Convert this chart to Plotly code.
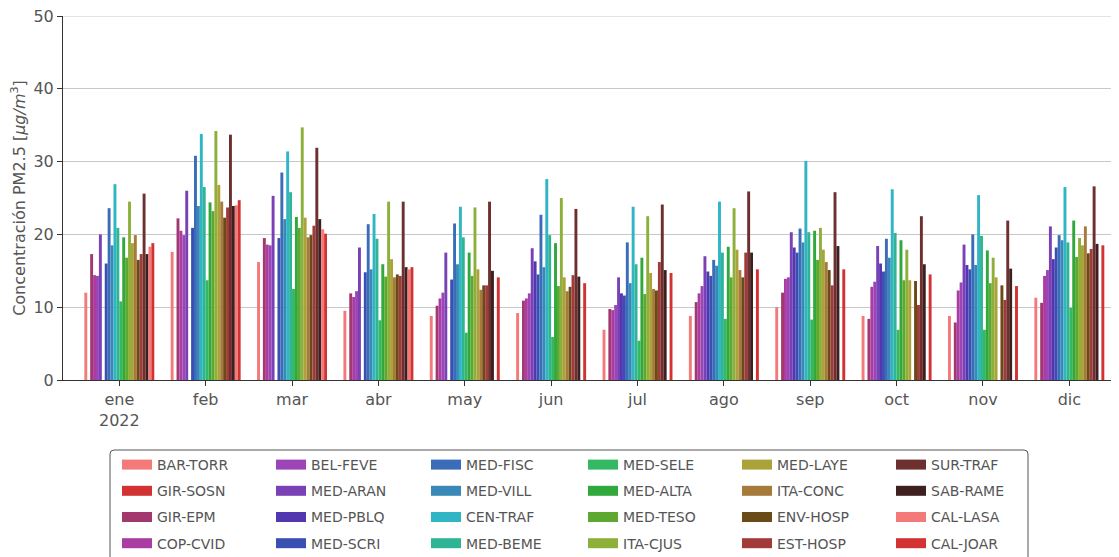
import plotly.graph_objects as go

months = ["ene", "feb", "mar", "abr", "may", "jun", "jul", "ago", "sep", "oct", "nov", "dic"]
tick_labels = ["ene<br>2022", "feb", "mar", "abr", "may", "jun", "jul", "ago", "sep", "oct", "nov", "dic"]
y_ticks = [0, 10, 20, 30, 40, 50]

N = None
BAR_TORR = [12.0, 17.6, 16.2, 9.5, 8.8, 9.2, 6.9, 8.8, 10.0, 8.8, 8.8, 11.3]
GIR_SOSN = [N, N, N, N, N, N, N, N, N, N, N, N]
GIR_EPM = [17.3, 22.2, 19.5, 11.9, 10.2, 10.9, 9.75, 10.7, 12.0, 8.4, 7.9, 10.6]
COP_CVID = [14.4, 20.5, 18.6, 11.4, 11.2, 11.2, 9.6, 11.9, 13.9, 12.8, 12.3, 14.3]
BEL_FEVE = [14.3, 19.9, 18.5, 12.2, 12.0, 11.9, 10.3, 12.9, 14.1, 13.5, 13.4, 15.1]
MED_ARAN = [20.0, 26.0, 25.3, 18.2, 17.5, 18.1, 14.1, 17.0, 20.3, 18.4, 18.6, 21.1]
MED_PBLQ = [N, N, N, N, N, 16.3, 11.9, 14.9, 18.2, 16.0, 15.8, 16.6]
MED_SCRI = [16.0, 20.9, 19.5, 14.8, 13.8, 14.5, 11.6, 14.3, 17.5, 14.9, 15.2, 18.2]
MED_FISC = [23.6, 30.8, 28.5, 21.4, 21.5, 22.7, 18.9, 16.5, 20.8, 19.4, 20.0, 19.9]
MED_VILL = [18.5, 23.9, 22.1, 15.2, 15.9, 15.5, 13.3, 15.7, 18.9, 16.8, 15.8, 19.2]
CEN_TRAF = [26.9, 33.8, 31.4, 22.8, 23.8, 27.6, 23.8, 24.5, 30.1, 26.2, 25.4, 26.5]
MED_BEME = [20.9, 26.5, 25.8, 19.4, 19.6, 19.9, 15.9, 17.5, 20.3, 20.2, 19.8, 18.9]
MED_SELE = [10.8, 13.7, 12.5, 8.2, 6.5, 5.9, 5.4, 8.4, 8.3, 6.9, 6.9, 9.9]
MED_ALTA = [19.6, 24.4, 22.4, 15.9, 17.5, 18.8, 16.8, 18.3, 20.5, 19.2, 17.8, 21.9]
MED_TESO = [16.8, 23.2, 20.9, 14.2, 14.3, 12.9, 11.8, 14.1, 16.5, 13.7, 13.3, 16.9]
ITA_CJUS = [24.5, 34.2, 34.7, 24.5, 23.7, 25.0, 22.5, 23.6, 20.9, 17.9, 16.8, 19.5]
MED_LAYE = [18.8, 26.8, 22.3, 16.6, 15.2, 14.1, 14.7, 17.9, 17.9, 13.7, 14.1, 18.5]
ITA_CONC = [19.9, 24.5, 19.6, 14.1, 12.4, 12.2, 12.5, 15.1, 16.2, N, N, 21.1]
ENV_HOSP = [16.5, 22.3, 19.9, 14.5, 13.0, 12.8, 12.3, 14.1, 15.1, 13.6, 13.0, 17.4]
EST_HOSP = [17.3, 23.7, 21.2, 14.3, 13.0, 14.4, 16.2, 17.5, 13.0, 10.3, 11.0, 18.0]
SUR_TRAF = [25.6, 33.7, 31.9, 24.5, 24.5, 23.5, 24.1, 25.9, 25.8, 22.5, 21.9, 26.6]
SAB_RAME = [17.3, 23.9, 22.1, 15.5, 15.0, 14.2, 15.1, 17.5, 18.4, 15.9, 15.3, 18.7]
CAL_LASA = [18.3, 24.0, 20.7, 15.2, N, N, N, N, N, N, N, N]
CAL_JOAR = [18.8, 24.7, 20.1, 15.5, 14.1, 13.3, 14.7, 15.2, 15.2, 14.5, 12.9, 18.5]

stations = ["BAR-TORR", "GIR-SOSN", "GIR-EPM", "COP-CVID", "BEL-FEVE", "MED-ARAN",
            "MED-PBLQ", "MED-SCRI", "MED-FISC", "MED-VILL", "CEN-TRAF", "MED-BEME",
            "MED-SELE", "MED-ALTA", "MED-TESO", "ITA-CJUS", "MED-LAYE", "ITA-CONC",
            "ENV-HOSP", "EST-HOSP", "SUR-TRAF", "SAB-RAME", "CAL-LASA", "CAL-JOAR"]
values = [BAR_TORR, GIR_SOSN, GIR_EPM, COP_CVID, BEL_FEVE, MED_ARAN, MED_PBLQ, MED_SCRI,
          MED_FISC, MED_VILL, CEN_TRAF, MED_BEME, MED_SELE, MED_ALTA, MED_TESO, ITA_CJUS,
          MED_LAYE, ITA_CONC, ENV_HOSP, EST_HOSP, SUR_TRAF, SAB_RAME, CAL_LASA, CAL_JOAR]
colors = ["#f47a7a", "#d23232", "#a3386f", "#aa3ca2", "#9c45b6", "#7a40b6",
          "#5237b0", "#3a4fb2", "#3a6cb8", "#3a88b8", "#2fb5c3", "#30b496",
          "#35b862", "#30a83c", "#5ca830", "#8db03a", "#aca23a", "#a67a3a",
          "#6a4a16", "#a33a3a", "#6e2f2f", "#3f2020", "#f47a7a", "#d23232"]

FONT = "DejaVu Sans"
W, H = 1119, 557
# The page body adds an 8px offset; place the plot box so it lands where the reference has it.
OFF = 8
REF_L, REF_T, REF_R, REF_B = 63, 16, 1112, 380
PW = REF_R - REF_L
PH = REF_B - REF_T
ML, MT = REF_L - OFF, REF_T - OFF
MR = W - ML - PW
MB = H - MT - PH


def px_x(x):
    return (x - REF_L) / PW


def px_y(y):
    return (REF_B - y) / PH


x_idx = list(range(len(months)))

fig = go.Figure()
for i, (name, vals, col) in enumerate(zip(stations, values, colors)):
    c = i // 4
    leg = "legend" if c == 0 else f"legend{c + 1}"
    fig.add_trace(go.Bar(x=x_idx, y=vals, name=name, marker=dict(color=col, line=dict(width=0)),
                         showlegend=False, legendgroup=name))
    fig.add_trace(go.Scatter(x=[None], y=[None], mode="lines", name=name,
                             line=dict(color=col, width=12), legend=leg, legendgroup=name,
                             showlegend=True))

text_x_px = [157, 311, 466, 623, 777, 931]
layout_legends = {}
for c in range(6):
    key = "legend" if c == 0 else f"legend{c + 1}"
    layout_legends[key] = dict(
        x=px_x(text_x_px[c] - 40), y=px_y(449),
        xanchor="left", yanchor="top", bgcolor="rgba(0,0,0,0)",
        font=dict(family=FONT, size=14, color="#555555"),
        tracegroupgap=5, traceorder="grouped", borderwidth=0,
    )

# rounded legend frame
bx0, bx1 = px_x(110), px_x(1028)
by0, by1 = px_y(450), px_y(575)
rx, ry = 4 / PW, 4 / PH
frame = (f"M {bx0 + rx},{by0} L {bx1 - rx},{by0} Q {bx1},{by0} {bx1},{by0 - ry} "
         f"L {bx1},{by1 + ry} Q {bx1},{by1} {bx1 - rx},{by1} L {bx0 + rx},{by1} "
         f"Q {bx0},{by1} {bx0},{by1 + ry} L {bx0},{by0 - ry} Q {bx0},{by0} {bx0 + rx},{by0} Z")

fig.update_layout(
    width=W, height=H,
    margin=dict(l=ML, r=MR, t=MT, b=MB, autoexpand=False),
    paper_bgcolor="white", plot_bgcolor="white",
    barmode="group", bargap=0.19, bargroupgap=0,
    font=dict(family=FONT, size=16, color="#555555"),
    shapes=[
        dict(type="path", xref="paper", yref="paper", path=frame,
             line=dict(color="#555555", width=1), fillcolor="rgba(0,0,0,0)"),
        # top gridline (at the upper axis limit), drawn like the other gridlines
        dict(type="line", xref="paper", yref="y", x0=0, x1=1, y0=y_ticks[-1], y1=y_ticks[-1],
             line=dict(color="#c8c8c8", width=1), layer="below"),
    ],
    **layout_legends,
)
fig.update_xaxes(
    range=[-0.652, 11.494], tickmode="array", tickvals=x_idx, ticktext=tick_labels,
    showline=True, linecolor="#333333", linewidth=1, ticks="outside", ticklen=5,
    tickcolor="#333333", showgrid=False, zeroline=False, automargin=False,
    tickfont=dict(family=FONT, size=16, color="#555555"),
)
fig.update_yaxes(
    range=[0, 50], tickmode="array", tickvals=y_ticks, ticktext=[str(v) for v in y_ticks],
    showline=True, linecolor="#333333", linewidth=1,
    ticks="outside", ticklen=5, tickcolor="#333333", automargin=False,
    ticklabeloverflow="allow",
    showgrid=True, gridcolor="#c8c8c8", gridwidth=1, zeroline=False,
    tickfont=dict(family=FONT, size=16, color="#555555"),
    title=dict(text="Concentración PM2.5 [<i>μg/m</i><sup>3</sup>]",
               font=dict(family=FONT, size=16, color="#555555"), standoff=8),
)

fig.write_html("out.html")
